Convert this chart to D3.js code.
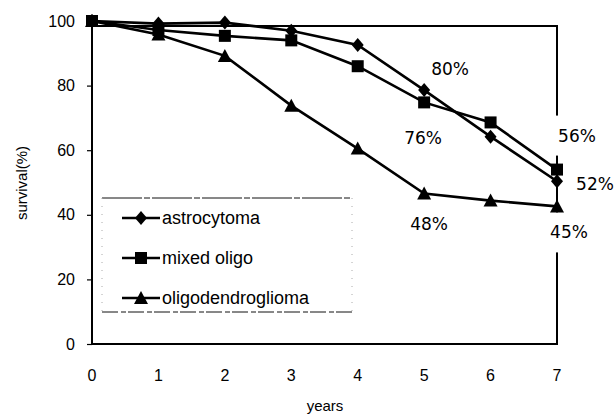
<!DOCTYPE html>
<html><head><meta charset="utf-8">
<script src="https://cdn.jsdelivr.net/npm/d3@7"></script>
<style>body{margin:0;background:#fff}svg{display:block}</style>
</head><body>
<script>
const years = [0,1,2,3,4,5,6,7];
const astrocytoma = [100, 99.2, 99.5, 97, 92.6, 78.6, 64.2, 50.4];
const mixedOligo = [100, 97.2, 95.4, 94, 86, 74.8, 68.6, 54];
const oligodendroglioma = [100, 95.8, 89.2, 73.8, 60.5, 46.6, 44.4, 42.6];
const seriesNames = ["astrocytoma", "mixed oligo", "oligodendroglioma"];
const yTicks = [0, 20, 40, 60, 80, 100];
const annotations = [
  {text:"80%", year:5, s:0},
  {text:"76%", year:5, s:1},
  {text:"48%", year:5, s:2},
  {text:"56%", year:7, s:1},
  {text:"52%", year:7, s:0},
  {text:"45%", year:7, s:2}
];
const annOffsets = [[26,-21],[-1,36],[5,31],[20,-34],[38,3],[12,26]];

const W=616,H=416;
const svg=d3.select("body").append("svg").attr("width",W).attr("height",H);
const x=d3.scaleLinear().domain([0,7]).range([92,557]);
const y=d3.scaleLinear().domain([0,100]).range([344,21]);
const font="'Liberation Sans', Arial, sans-serif";
const data=[astrocytoma,mixedOligo,oligodendroglioma];

// frame
svg.append("path").attr("d",`M${x(0)},${y(100)}V${y(0)}H${x(7)}V26H${x(0)}`)
  .attr("fill","none").attr("stroke","#000").attr("stroke-width",2);

// y axis
const ya=svg.append("g").attr("transform",`translate(${x(0)},0)`)
  .call(d3.axisLeft(y).tickValues(yTicks).tickSize(5).tickPadding(12));
ya.select(".domain").remove();
ya.selectAll("line").attr("stroke","#000").attr("stroke-width",1.2);
ya.selectAll("text").attr("font-family",font).attr("font-size",16).attr("fill","#000");

// x labels
svg.append("g").selectAll("text").data(years).join("text")
  .attr("x",d=>x(d)).attr("y",381).attr("text-anchor","middle")
  .attr("font-family",font).attr("font-size",16).text(d=>d);

svg.append("text").attr("x",325).attr("y",411).attr("text-anchor","middle")
  .attr("font-family",font).attr("font-size",15).text("years");
svg.append("text").attr("transform","translate(27,183) rotate(-90)").attr("text-anchor","middle")
  .attr("font-family",font).attr("font-size",15).text("survival(%)");

// annotation backgrounds
const ann=annotations.map((a,i)=>({...a,cx:x(a.year)+annOffsets[i][0],cy:y(data[a.s][a.year])+annOffsets[i][1]}));
svg.append("g").selectAll("rect").data(ann).join("rect")
  .attr("x",d=>d.cx-24).attr("y",d=>d.cy-20).attr("width",48).attr("height",40).attr("fill","#fff");

// markers
function marker(g,s,cx,cy){
  if(s===0) g.append("path").attr("d",`M${cx},${cy-7}L${cx+6},${cy}L${cx},${cy+7}L${cx-6},${cy}Z`);
  else if(s===1) g.append("rect").attr("x",cx-6).attr("y",cy-6).attr("width",12).attr("height",12);
  else g.append("path").attr("d",`M${cx},${cy-7}L${cx+7},${cy+6}L${cx-7},${cy+6}Z`);
}
const line=d3.line().x((d,i)=>x(years[i])).y(d=>y(d));
data.forEach((vals,s)=>{
  svg.append("path").attr("d",line(vals)).attr("fill","none").attr("stroke","#000").attr("stroke-width",2.6);
});
data.forEach((vals,s)=>{
  const g=svg.append("g").attr("fill","#000");
  vals.forEach((v,i)=>marker(g,s,x(years[i]),y(v)));
});

// annotation text
svg.append("g").selectAll("text").data(ann).join("text")
  .attr("x",d=>d.cx).attr("y",d=>d.cy+6).attr("text-anchor","middle")
  .attr("font-family","'DejaVu Sans', sans-serif").attr("font-size",17).text(d=>d.text);

// legend
const lg=svg.append("g");
lg.append("rect").attr("x",102).attr("y",198).attr("width",250).attr("height",114).attr("fill","#fff");
lg.append("line").attr("x1",102).attr("x2",352).attr("y1",198).attr("y2",198).attr("stroke","#111").attr("stroke-width",1).attr("stroke-dasharray","40,2,6,2");
lg.append("line").attr("x1",102).attr("x2",352).attr("y1",312).attr("y2",312).attr("stroke","#111").attr("stroke-width",1).attr("stroke-dasharray","16,3,5,2");
[102,352].forEach(lx=>lg.append("line").attr("x1",lx).attr("x2",lx).attr("y1",198).attr("y2",312).attr("stroke","#aaa").attr("stroke-width",1).attr("stroke-dasharray","1,7"));
seriesNames.forEach((n,s)=>{
  const ly=218+40*s;
  lg.append("line").attr("x1",122).attr("x2",160).attr("y1",ly).attr("y2",ly).attr("stroke","#000").attr("stroke-width",2.6);
  const g=lg.append("g").attr("fill","#000");
  marker(g,s,141,ly);
  lg.append("text").attr("x",162).attr("y",ly+6).attr("font-family",font).attr("font-size",18).text(n);
});
</script>
</body></html>
